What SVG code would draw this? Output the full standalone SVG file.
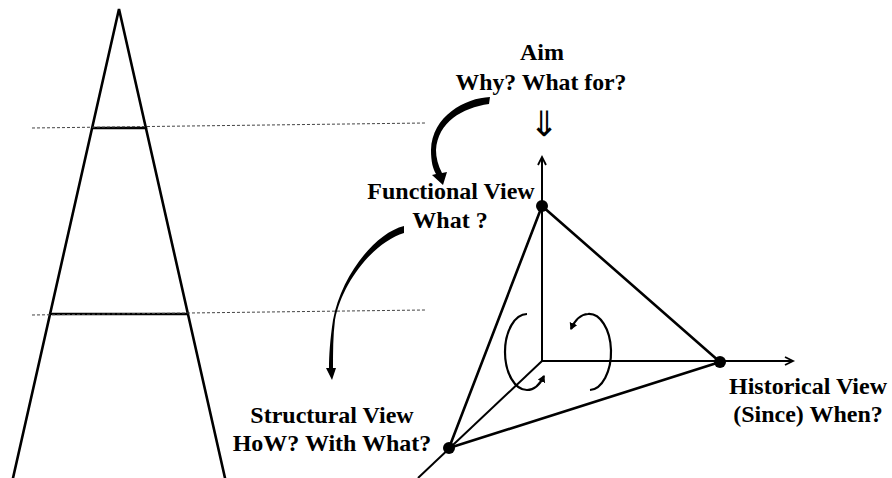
<svg xmlns="http://www.w3.org/2000/svg" width="892" height="478" viewBox="0 0 892 478">
<style>
.ln{stroke:#000;stroke-width:2.6;fill:none;stroke-linecap:round}
.ax{stroke:#000;stroke-width:2;fill:none}
.dash{stroke:#444;stroke-width:1;stroke-dasharray:3 2;fill:none}
.rot{stroke:#000;stroke-width:2.2;fill:none}
.txt{font-family:"Liberation Serif","Times New Roman",serif;font-weight:bold;font-size:24px;fill:#000;text-anchor:middle}
.dot{fill:#000}
.brush{fill:#000}
</style>
<defs>
<marker id="open" markerUnits="userSpaceOnUse" markerWidth="12" markerHeight="12" refX="9" refY="5" orient="auto">
<path d="M1,1 L9,5 L1,9" stroke="#000" stroke-width="1.8" fill="none"/>
</marker>
<marker id="tri" markerUnits="userSpaceOnUse" markerWidth="10" markerHeight="10" refX="6" refY="4" orient="auto">
<path d="M0,0 L7,4 L0,8 Z" fill="#000"/>
</marker>
</defs>

<g id="pyramid">
<polyline class="ln" points="13,478 119,9 225,478"/>
<line class="ln" x1="93" y1="128" x2="146" y2="128"/>
<line class="ln" x1="52" y1="314" x2="187" y2="314"/>
</g>

<g id="guides">
<line class="dash" x1="32" y1="128" x2="425" y2="123"/>
<line class="dash" x1="32" y1="315" x2="425" y2="310"/>
</g>

<g id="aim">
<text class="txt" x="542" y="60">Aim</text>
<text class="txt" x="541" y="90" textLength="171" lengthAdjust="spacingAndGlyphs">Why? What for?</text>
<text x="544" y="136" style="font-family:'DejaVu Sans',sans-serif;font-size:35px;text-anchor:middle;fill:#000">⇓</text>
</g>

<g id="functional">
<text class="txt" x="451" y="199">Functional View</text>
<text class="txt" x="450" y="228">What ?</text>
</g>

<g id="structural">
<text class="txt" x="332" y="423">Structural View</text>
<text class="txt" x="332" y="451">HoW? With What?</text>
</g>

<g id="historical">
<text class="txt" x="808" y="394">Historical View</text>
<text class="txt" x="808" y="422">(Since) When?</text>
</g>

<g id="tetrahedron">
<line class="ax" x1="542" y1="361" x2="542" y2="157" marker-end="url(#open)"/>
<line class="ax" x1="542" y1="361" x2="793" y2="361" marker-end="url(#open)"/>
<line class="ax" x1="542" y1="361" x2="418" y2="478"/>
<line class="ln" x1="542" y1="206" x2="449" y2="448"/>
<line class="ln" x1="542" y1="206" x2="720" y2="362"/>
<line class="ln" x1="449" y1="448" x2="720" y2="362"/>
<circle class="dot" cx="542" cy="206" r="6"/>
<circle class="dot" cx="720" cy="362" r="6"/>
<circle class="dot" cx="449" cy="448" r="6"/>
</g>

<g id="connectors">
<path class="brush" d="M490,97 C465,98 432,116 431,150 C431,162 433,169 436,174 L432,175 L443,185 L447,172 L442,173 C438,165 436,158 436,150 C438,122 462,108 489,104 Z"/>
<path class="brush" d="M404,226 C375,233 341,276 333,320 C330,340 329,356 329,368 L326,368 L332,380 L336,368 L333,368 C333,352 333,336 335,320 C342,282 374,242 404,233 Z"/>
<path class="rot" d="M527,314 A22,38 0 0 0 527,390 A22,38 0 0 0 544,376" marker-end="url(#tri)"/>
<path class="rot" d="M590,390 A22,38 0 0 0 588,314 A22,38 0 0 0 571,329" marker-end="url(#tri)"/>
</g>
</svg>
